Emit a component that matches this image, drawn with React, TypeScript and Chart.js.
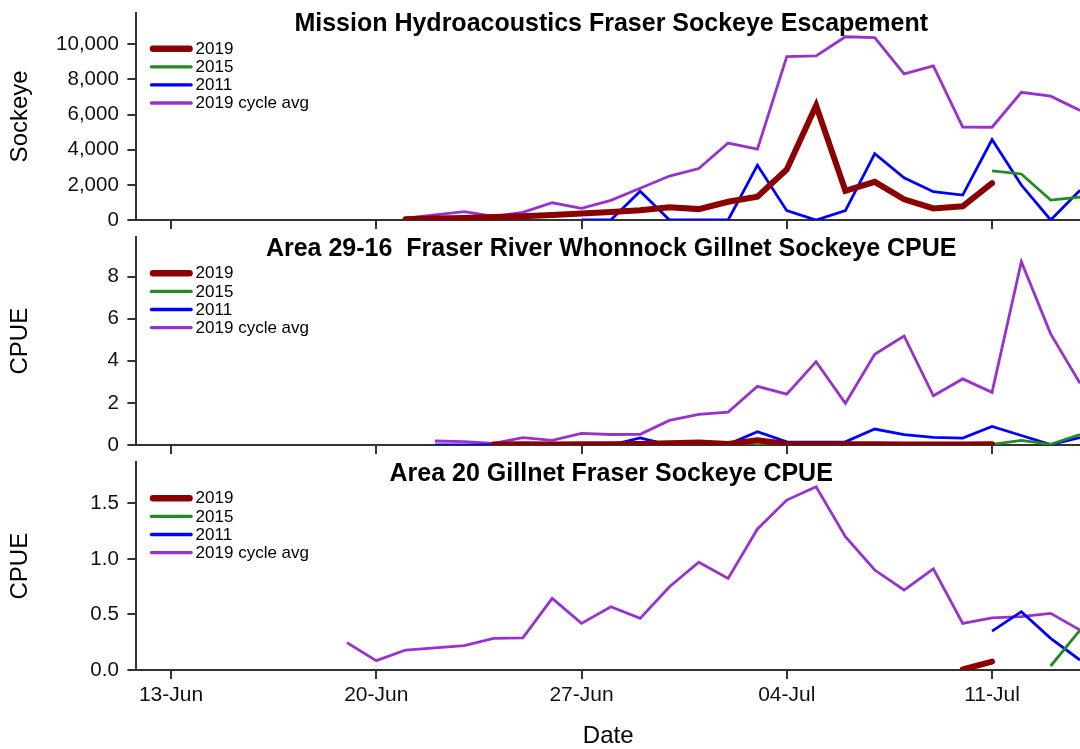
import React, { useEffect, useRef } from 'react';
import { Chart, registerables } from 'chart.js';

Chart.register(...registerables);

const FONT = '"Liberation Sans", Arial, sans-serif';

// ---- data ----
const dates = [
  '19-Jun', '20-Jun', '21-Jun', '22-Jun', '23-Jun', '24-Jun', '25-Jun', '26-Jun', '27-Jun', '28-Jun',
  '29-Jun', '30-Jun', '01-Jul', '02-Jul', '03-Jul', '04-Jul', '05-Jul', '06-Jul', '07-Jul', '08-Jul',
  '09-Jul', '10-Jul', '11-Jul', '12-Jul', '13-Jul', '14-Jul',
];
const xTickLabels = ['13-Jun', '20-Jun', '27-Jun', '04-Jul', '11-Jul'];
const seriesNames = ['2019', '2015', '2011', '2019 cycle avg'];
const seriesColors = ['#8B0000', '#228B22', '#0000FF', '#9932CC'];

// Panel 1: Mission hydroacoustics escapement
const escTitle = 'Mission Hydroacoustics Fraser Sockeye Escapement';
const esc2019 = [null, null, 40, 80, 120, 170, 220, 290, 370, 460, 560, 720, 620, 1040, 1320, 2880, 6520, 1660, 2170, 1180, 660, 780, 2100, null, null, null];
const esc2015 = [null, null, null, null, null, null, null, null, null, null, null, null, null, null, null, null, null, null, null, null, null, null, 2800, 2620, 1130, 1300];
const esc2011 = [null, null, null, null, null, null, null, null, 0, 0, 1640, 0, 0, 0, 3120, 530, 0, 530, 3780, 2400, 1610, 1420, 4580, 1990, 0, 1700];
const escCycleAvg = [null, null, 100, 290, 480, 200, 440, 980, 660, 1120, 1810, 2500, 2930, 4380, 4030, 9300, 9340, 10430, 10380, 8320, 8770, 5290, 5280, 7270, 7050, 6240];
const escYTicks = [0, 2000, 4000, 6000, 8000, 10000];
const escYMax = 11800;

// Panel 2: Area 29-16 Whonnock gillnet CPUE
const whoTitle = 'Area 29-16  Fraser River Whonnock Gillnet Sockeye CPUE';
const who2019 = [null, null, null, null, null, 0.02, 0.03, 0.02, 0.03, 0.03, 0.05, 0.08, 0.12, 0.05, 0.22, 0.05, 0.04, 0.04, 0.03, 0.02, 0.02, 0.02, 0.03, null, null, null];
const who2015 = [null, null, null, null, null, null, null, null, null, 0, 0, 0, 0, 0, 0, 0, 0, 0, 0, 0, 0, 0, 0.03, 0.22, 0.03, 0.5];
const who2011 = [null, null, null, 0, 0, 0, 0, 0, 0, 0, 0.34, 0, 0, 0.03, 0.63, 0.15, 0.13, 0.15, 0.76, 0.49, 0.36, 0.33, 0.88, 0.45, 0.02, 0.35];
const whoCycleAvg = [null, null, null, 0.19, 0.16, 0.08, 0.35, 0.22, 0.55, 0.5, 0.51, 1.17, 1.46, 1.56, 2.79, 2.42, 3.96, 1.98, 4.31, 5.18, 2.34, 3.14, 2.5, 8.71, 5.28, 2.93];
const whoYTicks = [0, 2, 4, 6, 8];
const whoYMax = 9.87;

// Panel 3: Area 20 gillnet CPUE
const a20Title = 'Area 20 Gillnet Fraser Sockeye CPUE';
const a202019 = [null, null, null, null, null, null, null, null, null, null, null, null, null, null, null, null, null, null, null, null, null, 0.006, 0.075, null, null, null];
const a202015 = [null, null, null, null, null, null, null, null, null, null, null, null, null, null, null, null, null, null, null, null, null, null, null, null, 0.036, 0.36];
const a202011 = [null, null, null, null, null, null, null, null, null, null, null, null, null, null, null, null, null, null, null, null, null, null, 0.35, 0.525, 0.285, 0.09];
const a20CycleAvg = [0.246, 0.084, 0.18, 0.2, 0.22, 0.285, 0.29, 0.645, 0.42, 0.57, 0.465, 0.75, 0.97, 0.825, 1.27, 1.53, 1.65, 1.2, 0.9, 0.72, 0.91, 0.42, 0.47, 0.48, 0.51, 0.36];
const a20YTicks = [0, 0.5, 1.0, 1.5];
const a20YMax = 1.87;

// ---- helpers ----
const monthOffset: Record<string, number> = { Jun: -13, Jul: 17 };
function dayOffset(label: string): number {
  const [d, m] = label.split('-');
  return parseInt(d, 10) + monthOffset[m];
}
const xMin = dayOffset('13-Jun') - 1.18;
const xMax = dayOffset('14-Jul');

function toPoints(values: (number | null)[]) {
  return values.map((v, i) => ({ x: dayOffset(dates[i]), y: v }));
}

const overlayPlugin = (title: string) => ({
  id: 'panelOverlay',
  afterDraw(chart: any) {
    const { ctx, chartArea } = chart;
    ctx.save();
    ctx.fillStyle = '#000';
    ctx.font = `bold 25px ${FONT}`;
    ctx.textAlign = 'center';
    ctx.textBaseline = 'alphabetic';
    ctx.fillText(title, (chartArea.left + chartArea.right) / 2 + 3, chartArea.top + 18.5);

    seriesNames.forEach((name, i) => {
      const y = chartArea.top + 36 + 18.1 * i;
      const x0 = chartArea.left + 13.4;
      const x1 = chartArea.left + 56.4;
      const w = i === 0 ? 6.5 : 3.3;
      ctx.strokeStyle = seriesColors[i];
      ctx.lineWidth = w;
      ctx.lineCap = 'round';
      ctx.beginPath();
      ctx.moveTo(x0 + w / 2, y);
      ctx.lineTo(x1 - w / 2, y);
      ctx.stroke();
      ctx.fillStyle = '#000';
      ctx.font = `17px ${FONT}`;
      ctx.textAlign = 'left';
      ctx.textBaseline = 'middle';
      ctx.fillText(name, chartArea.left + 59.2, y + 0.5);
    });
    ctx.restore();
  },
});

type PanelProps = {
  title: string;
  series: (number | null)[][];
  yTitle: string;
  yTicks: number[];
  yMax: number;
  yFormat: (v: number) => string;
  height: number;
  padTop: number;
  xAxisHeight: number;
  showXLabels: boolean;
};

function Panel(p: PanelProps) {
  const ref = useRef<HTMLCanvasElement | null>(null);
  useEffect(() => {
    if (!ref.current) return;
    const axisColor = '#333';
    const chart = new Chart(ref.current, {
      type: 'line',
      data: {
        datasets: p.series.map((vals, i) => ({
          label: seriesNames[i],
          data: toPoints(vals) as any,
          borderColor: seriesColors[i],
          backgroundColor: seriesColors[i],
          borderWidth: i === 0 ? 6 : 2.8,
          borderCapStyle: i === 0 ? 'round' : 'butt',
          pointRadius: 0,
          tension: 0,
          spanGaps: false,
          fill: false,
        })),
      },
      options: {
        animation: false,
        responsive: false,
        layout: { padding: { top: p.padTop, left: 0, right: 0, bottom: 0 } },
        plugins: { legend: { display: false }, tooltip: { enabled: false } },
        scales: {
          x: {
            type: 'linear',
            min: xMin,
            max: xMax,
            afterBuildTicks: (s: any) => {
              s.ticks = xTickLabels.map((l) => ({ value: dayOffset(l) }));
            },
            afterFit: (s: any) => {
              s.height = p.xAxisHeight;
              s.paddingLeft = 0;
              s.paddingRight = 0;
            },
            ticks: {
              display: p.showXLabels,
              autoSkip: false,
              maxRotation: 0,
              padding: 4,
              color: '#111',
              font: { family: FONT, size: 21 },
              callback: (v: any) => {
                const lbl = xTickLabels.find((l) => dayOffset(l) === v);
                return lbl ?? '';
              },
            },
            grid: { drawOnChartArea: false, drawTicks: true, tickLength: 9, color: axisColor, lineWidth: 2 },
            border: { display: true, color: axisColor, width: 2 },
            title: {
              display: p.showXLabels,
              text: 'Date',
              color: '#000',
              font: { family: FONT, size: 24 },
              padding: 0,
            },
          },
          y: {
            type: 'linear',
            min: 0,
            max: p.yMax,
            afterBuildTicks: (s: any) => {
              s.ticks = p.yTicks.map((v) => ({ value: v }));
            },
            afterFit: (s: any) => {
              s.width = 136.4;
              s.paddingTop = 0;
              s.paddingBottom = 0;
            },
            ticks: {
              padding: 8.6,
              color: '#111',
              font: { family: FONT, size: 20.5 },
              callback: (v: any) => p.yFormat(Number(v)),
            },
            grid: { drawOnChartArea: false, drawTicks: true, tickLength: 9, color: axisColor, lineWidth: 2 },
            border: { display: true, color: axisColor, width: 2 },
            title: {
              display: true,
              text: p.yTitle,
              color: '#000',
              font: { family: FONT, size: 24 },
              padding: { top: 6, bottom: 0 },
            },
          },
        },
      },
      plugins: [overlayPlugin(p.title)],
    } as any);
    return () => chart.destroy();
  }, []);
  return <canvas ref={ref} width={1080} height={p.height} style={{ display: 'block' }} />;
}

export default function App() {
  return (
    <div style={{ position: 'absolute', left: 0, top: 0, width: 1080, height: 749, background: '#fff', overflow: 'hidden' }}>
      <Panel
        title={escTitle}
        series={[esc2019, esc2015, esc2011, escCycleAvg]}
        yTitle="Sockeye"
        yTicks={escYTicks}
        yMax={escYMax}
        yFormat={(v) => v.toLocaleString('en-US')}
        height={230}
        padTop={12.7}
        xAxisHeight={10}
        showXLabels={false}
      />
      <Panel
        title={whoTitle}
        series={[who2019, who2015, who2011, whoCycleAvg]}
        yTitle="CPUE"
        yTicks={whoYTicks}
        yMax={whoYMax}
        yFormat={(v) => String(v)}
        height={225}
        padTop={7.3}
        xAxisHeight={10}
        showXLabels={false}
      />
      <Panel
        title={a20Title}
        series={[a202019, a202015, a202011, a20CycleAvg]}
        yTitle="CPUE"
        yTicks={a20YTicks}
        yMax={a20YMax}
        yFormat={(v) => v.toFixed(1)}
        height={296}
        padTop={7.3}
        xAxisHeight={81}
        showXLabels={true}
      />
    </div>
  );
}
